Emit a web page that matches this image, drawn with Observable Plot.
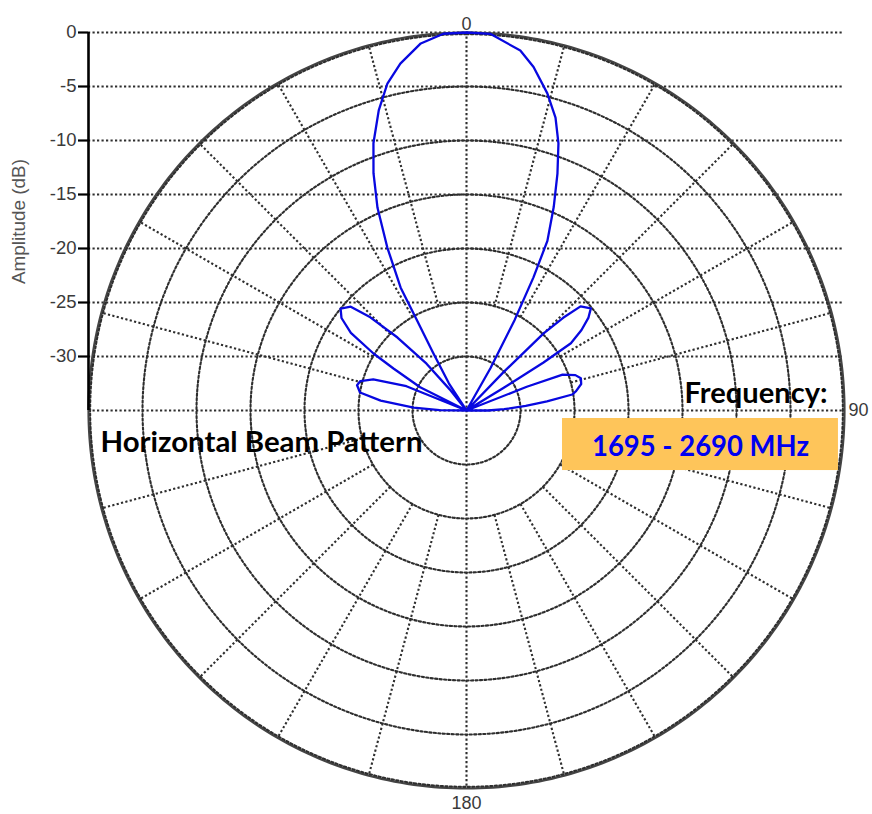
<!DOCTYPE html>
<html>
<head>
<meta charset="utf-8">
<script src="https://cdn.jsdelivr.net/npm/d3@7"></script>
<script src="https://cdn.jsdelivr.net/npm/@observablehq/plot@0.6"></script>
<style>
  html, body { margin: 0; padding: 0; background: #fff; }
  #chart svg { display: block; }
</style>
</head>
<body>
<div id="chart"></div>
<script>
// ---- Data ----
// Azimuth (deg, 0 = boresight, clockwise positive) and relative amplitude (dB)
const azimuthDeg = [
  -92, -89, -86.8, -83.4, -80.4, -77, -74.5, -71.6, -68, -66,
  -63.4, -60.1, -58.5, -56.1, -53.5, -51, -48.1, -45.9, -43.4, -40.5, -38.5, -36.5,
  -33, -30.1, -28.8, -28.2, -25.9, -23.7, -21.4, -19.2, -16.3, -13.6, -10.8, -7.1, -3.5,
  0,
  3.6, 8.5, 11.05, 14.3, 16.9, 19.0, 21.0, 23.2, 25.5, 26.7, 28, 29.5, 31,
  43.5, 44, 45, 46.2, 47.6, 50.6, 52.7, 55, 57.2, 58.1, 58.6, 60,
  66, 68.5, 69.5, 72, 74.3, 77, 80, 81.4, 83.5, 85.5, 88, 90, 92
];
const amplitudeDb = [
  -35, -32.5, -30.1, -27.0, -25.0, -24.6, -24.8, -25.9, -29, -35,
  -30.2, -27.2, -24.9, -22.1, -20.6, -20.0, -20.6, -22.6, -25.7, -29.3, -32.5, -35,
  -32, -28.9, -25.5, -22.1, -18.2, -14.5, -11.4, -8.8, -6.05, -3.85, -2.3, -0.75, -0.05,
  0,
  -0.05, -1.3, -2.6, -4.7, -6.65, -8.85, -11.5, -14.5, -17.6, -21.2, -25.5, -30.5, -35,
  -35, -30, -24.9, -22.6, -20.7, -20.1, -20.8, -22.0, -23.5, -26.6, -31, -35,
  -35, -29, -25.5, -24.4, -24.0, -24.1, -24.7, -25.1, -27.5, -29.5, -31.5, -33, -35
];
const radialTicks = [0, -5, -10, -15, -20, -25, -30];
const ringLevels = [-30, -25, -20, -15, -10, -5];
const spokeAngles = [15, 30, 45, 60, 75, 105, 120, 135, 150, 165, 195, 210, 225, 240, 255, 285, 300, 315, 330, 345];
const angleLabelValues = [0, 90, 180];
const angleLabelTexts = ["0", "90", "180"];
const titleText = "Horizontal Beam Pattern";
const freqLabel = "Frequency:";
const freqText = "1695 - 2690 MHz";
const yAxisLabel = "Amplitude (dB)";

// ---- Polar helpers: radius measured in dB above the -35 dB floor ----
const FLOOR = -35;
const rad = (a) => a * Math.PI / 180;
const rOf = (db) => Math.max(db, FLOOR) - FLOOR;
const px = (a, db) => rOf(db) * Math.sin(rad(a));
const py = (a, db) => FLOOR + rOf(db) * Math.cos(rad(a));

const pattern = azimuthDeg.map((a, i) => ({a, db: amplitudeDb[i]}));
const ringPts = [];
for (const db of ringLevels) for (let a = 0; a <= 360; a += 1) ringPts.push({db, a});
const outerPts = d3.range(0, 361, 1).map(a => ({a, db: 0}));
const angleLabels = angleLabelValues.map((a, i) => ({a, text: angleLabelTexts[i]}));

const GRID = "#2e2e2e";
const DASH = "2.2,2.3";
const GW = 2.1;
const LBL = {fontSize: 18, fill: "#3a3a3a"};
const ANN = {fontFamily: "Lato, 'Open Sans', sans-serif", fontWeight: "bold", fontSize: 29, lineAnchor: "bottom"};

const chart = Plot.plot({
  width: 872,
  height: 814,
  marginLeft: 88,
  marginRight: 28,
  marginTop: 32,
  marginBottom: 26,
  x: {domain: [-35, 35], axis: null},
  y: {domain: [-70, 0], axis: null},
  style: {fontFamily: "'Liberation Sans', Arial, sans-serif", background: "white", overflow: "visible"},
  marks: [
    // horizontal (cartesian) grid lines at each dB tick plus the 90/270 line
    Plot.ruleY([...radialTicks, FLOOR], {stroke: GRID, strokeWidth: GW, strokeDasharray: DASH}),
    // 0/180 line
    Plot.ruleX([0], {stroke: GRID, strokeWidth: GW, strokeDasharray: DASH}),
    // concentric rings
    Plot.line(ringPts, {x: d => px(d.a, d.db), y: d => py(d.a, d.db), z: "db", stroke: GRID, strokeWidth: GW, strokeDasharray: DASH}),
    // spokes from the -25 dB ring outwards
    Plot.link(spokeAngles, {x1: a => px(a, -25), y1: a => py(a, -25), x2: a => px(a, 0), y2: a => py(a, 0), stroke: GRID, strokeWidth: GW, strokeDasharray: DASH}),
    // outer circle
    Plot.line(outerPts, {x: d => px(d.a, d.db), y: d => py(d.a, d.db), stroke: "#444", strokeWidth: 2.2}),
    Plot.line(outerPts, {x: d => px(d.a, d.db - 0.15), y: d => py(d.a, d.db - 0.15), stroke: GRID, strokeWidth: GW, strokeDasharray: DASH}),
    // amplitude axis
    Plot.ruleX([FLOOR], {y1: FLOOR, y2: 0, stroke: "black", strokeWidth: 2.6}),
    Plot.axisY(radialTicks, {anchor: "left", tickSize: 10, tickPadding: 2, tickFormat: d => String(d), fontSize: 18.5, fill: "#3a3a3a", stroke: "black", strokeWidth: 2.2, label: null}),
    Plot.text([yAxisLabel], {x: -41.4, y: -17.5, rotate: -90, fontSize: 18.5, fill: "#555"}),
    // angle labels
    Plot.text(angleLabels.filter(d => d.a === 0), {x: d => px(d.a, 0), y: d => py(d.a, 0), text: "text", lineAnchor: "bottom", textAnchor: "middle", dy: -3, ...LBL}),
    Plot.text(angleLabels.filter(d => d.a === 90), {x: d => px(d.a, 0), y: d => py(d.a, 0), text: "text", lineAnchor: "middle", textAnchor: "start", dx: 4, ...LBL}),
    Plot.text(angleLabels.filter(d => d.a === 180), {x: d => px(d.a, 0), y: d => py(d.a, 0), text: "text", lineAnchor: "top", textAnchor: "middle", dy: 8, ...LBL}),
    // beam pattern
    Plot.line(pattern, {x: d => px(d.a, d.db), y: d => py(d.a, d.db), stroke: "#0808e0", strokeWidth: 2.3, strokeLinejoin: "round"}),
    // frequency box
    Plot.rect([freqText], {x1: 8.89, x2: 34.44, y1: -35.74, y2: -40.56, fill: "#fec55a"}),
    Plot.text([freqText], {x: 21.67, y: -39.2, textAnchor: "middle", fill: "#0000f0", ...ANN}),
    Plot.text([freqLabel], {x: 33.43, y: -34.26, textAnchor: "end", fill: "black", ...ANN}),
    Plot.text([titleText], {x: -33.89, y: -38.8, textAnchor: "start", fill: "black", ...ANN})
  ]
});

// fit annotation text widths to the reference
const fit = new Map([[freqText, 217], [freqLabel, 143], [titleText, 322], [yAxisLabel, 125]]);
d3.select(chart).selectAll("text").each(function () {
  const w = fit.get(this.textContent);
  if (w) d3.select(this).attr("textLength", w).attr("lengthAdjust", "spacingAndGlyphs");
});
document.getElementById("chart").appendChild(chart);
</script>
</body>
</html>
